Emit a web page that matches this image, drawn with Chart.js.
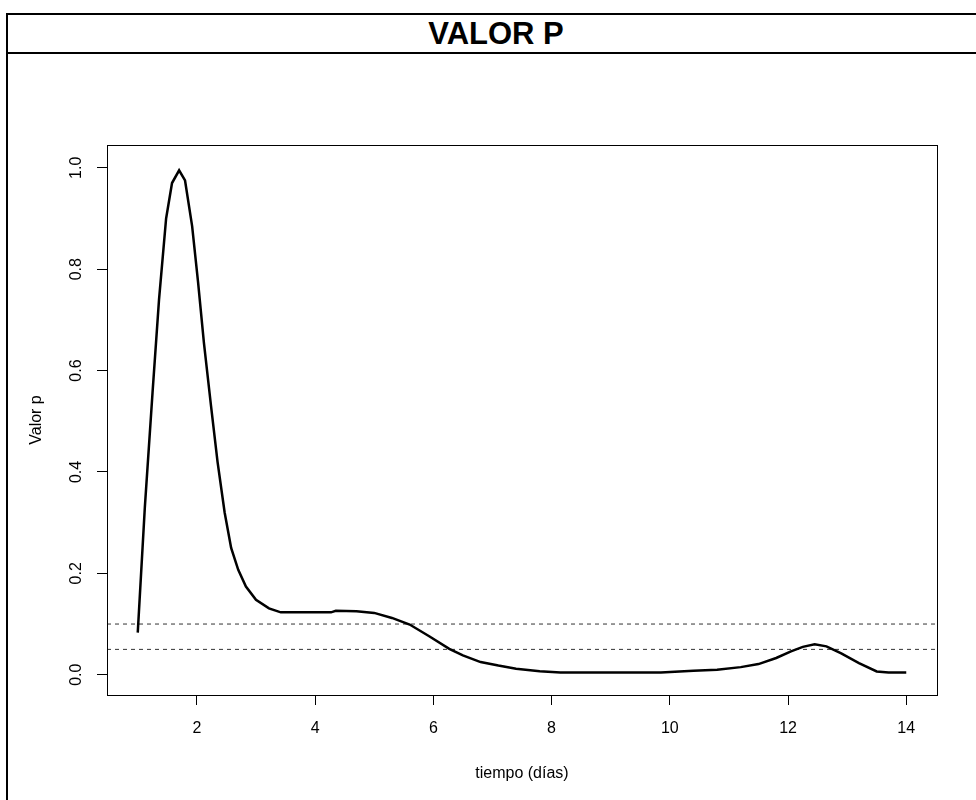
<!DOCTYPE html>
<html>
<head>
<meta charset="utf-8">
<title>Valor p</title>
<script src="https://cdn.jsdelivr.net/npm/chart.js@4.4.1/dist/chart.umd.min.js"></script>
<style>
    body { margin: 0; background: #fff; font-family: "Liberation Sans", Arial, sans-serif; }
    #wrap { position: relative; width: 976px; height: 800px; overflow: hidden; }
    #frame { position: absolute; left: 6px; top: 13px; width: 980px; height: 900px; border: 2px solid #000; box-sizing: border-box; }
    #header { height: 39px; border-bottom: 2px solid #000; box-sizing: border-box; display: flex; align-items: center; justify-content: center; font-weight: bold; font-size: 31px; color: #000; }
    #chart { position: absolute; left: 0; top: 0; }
</style>
</head>
<body>
<div id="wrap">
    <div id="frame"><div id="header">VALOR P</div></div>
    <canvas id="chart" width="976" height="800"></canvas>
</div>
<script>
// tiempo (días) y valor p de la curva
const dias = [1.0, 1.12, 1.25, 1.36, 1.48, 1.58, 1.70, 1.80, 1.92, 2.02, 2.12, 2.24, 2.35, 2.47, 2.58, 2.70, 2.83, 3.0, 3.22, 3.42,
    3.7, 4.0, 4.27, 4.35, 4.7, 5.0, 5.3, 5.6, 5.93, 6.27, 6.5, 6.8, 7.1, 7.4, 7.8, 8.15, 9.0, 9.85, 10.4, 10.8,
    11.2, 11.5, 11.8, 12.05, 12.25, 12.45, 12.65, 12.9, 13.2, 13.5, 13.7, 14.0];
const valorP = [0.083, 0.33, 0.556, 0.74, 0.90, 0.97, 0.995, 0.975, 0.885, 0.775, 0.654, 0.53, 0.42, 0.32, 0.25, 0.207, 0.174, 0.148, 0.131, 0.123,
    0.123, 0.123, 0.123, 0.126, 0.125, 0.122, 0.112, 0.099, 0.076, 0.051, 0.038, 0.025, 0.018, 0.012, 0.007, 0.0045, 0.0045, 0.0045, 0.008, 0.010,
    0.015, 0.021, 0.033, 0.046, 0.055, 0.06, 0.056, 0.042, 0.023, 0.0065, 0.0045, 0.0045];

// niveles de significancia (líneas discontinuas)
const niveles = [0.1, 0.05];

const xTicks = [2, 4, 6, 8, 10, 12, 14];
const yTicks = [0.0, 0.2, 0.4, 0.6, 0.8, 1.0];
const xMin = 0.48, xMax = 14.52;
const yMin = -0.04, yMax = 1.045;

const fuente = { family: '"Liberation Sans", Arial, sans-serif', size: 16 };

// caja alrededor del área de trazado, como box() en R
const boxPlugin = {
    id: 'plotBox',
    afterDraw(chart) {
        const { ctx, chartArea: a } = chart;
        ctx.save();
        ctx.strokeStyle = '#000';
        ctx.lineWidth = 1;
        ctx.strokeRect(Math.round(a.left) + 0.5, Math.round(a.top) + 0.5, Math.round(a.right - a.left), Math.round(a.bottom - a.top));
        ctx.restore();
    }
};

const datasets = [{
    data: dias.map((d, i) => ({ x: d, y: valorP[i] })),
    borderColor: '#000',
    borderWidth: 2.5,
    pointRadius: 0,
    tension: 0,
    order: 0
}];
niveles.forEach(n => {
    datasets.push({
        data: [{ x: xMin, y: n }, { x: xMax, y: n }],
        borderColor: '#333',
        borderWidth: 1,
        borderDash: [4, 4],
        pointRadius: 0,
        order: 1
    });
});

new Chart(document.getElementById('chart'), {
    type: 'line',
    data: { datasets },
    plugins: [boxPlugin],
    options: {
        responsive: false,
        animation: false,
        layout: { padding: { left: 0, right: 39, top: 145, bottom: 15 } },
        plugins: { legend: { display: false }, tooltip: { enabled: false } },
        scales: {
            x: {
                type: 'linear',
                min: xMin, max: xMax,
                afterBuildTicks: (s) => { s.ticks = xTicks.map(v => ({ value: v })); },
                afterFit: (s) => { s.height = 90; },
                grid: { display: true, drawOnChartArea: false, drawTicks: true, tickLength: 10, color: '#000' },
                border: { display: false },
                ticks: { color: '#000', font: fuente, padding: 14, maxRotation: 0, callback: v => String(v) },
                title: { display: true, text: 'tiempo (días)', color: '#000', font: fuente, padding: { bottom: 2 } }
            },
            y: {
                type: 'linear',
                min: yMin, max: yMax,
                afterBuildTicks: (s) => { s.ticks = yTicks.map(v => ({ value: v })); },
                afterFit: (s) => { s.width = 107; },
                grid: { display: true, drawOnChartArea: false, drawTicks: true, tickLength: 10, color: '#000' },
                border: { display: false },
                ticks: { color: '#000', font: fuente, padding: 9, minRotation: 90, maxRotation: 90, crossAlign: 'center', callback: v => v.toFixed(1) },
                title: { display: true, text: 'Valor p', color: '#000', font: fuente, padding: { top: 27 } }
            }
        }
    }
});
</script>
</body>
</html>
